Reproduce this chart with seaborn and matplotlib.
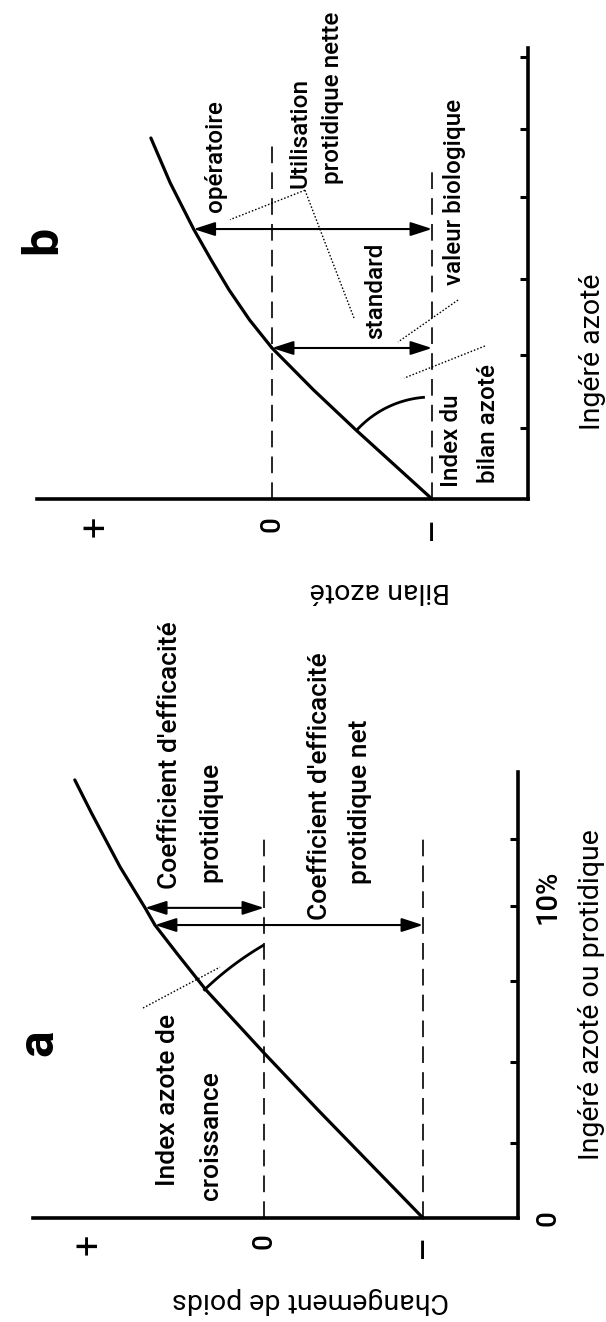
import numpy as np
import matplotlib
matplotlib.use("Agg")
import matplotlib.pyplot as plt
import seaborn as sns

# ---------------- data ----------------
# w = weight change / nitrogen balance ( -1 = "–", 0 = "0", + above)
# I = intake (panel a in %, panel b in tick units)
W_TICKS = [1.1, 0.0, -1.0]
W_TICK_LABELS = ["+", "0", "–"]

# Panel a
A_CURVE_W = [-1.0, -0.34, 0.0, 0.365, 0.54, 0.686, 0.748, 0.905, 1.085, 1.19]
A_CURVE_I = [0.0, 3.46, 5.29, 7.31, 8.43, 9.39, 9.94, 11.25, 12.98, 14.04]
A_I_TICKS = [2.4, 5.0, 7.6, 10.0, 12.15]
A_I_LABEL_POS = [0.0, 10.0]
A_I_LABELS = ["0", "10%"]
A_DASH_W = [0.0, -1.0]
A_DASH_TOP = [12.18, 12.18]
A_ARROW_I = [9.94, 9.39]
A_ARROW_FROM = [0.748, 0.686]
A_ARROW_TO = [0.0, -1.0]
A_LEADERS = [([0.761, 0.277], [6.73, 8.04])]
A_TEXTS = ["Index azote de", "croissance", "Coefficient d'efficacité", "protidique",
           "Coefficient d'efficacité", "protidique net"]
A_TEXT_W = [0.604, 0.333, 0.591, 0.340, -0.352, -0.604]
A_TEXT_I = [3.78, 2.63, 14.84, 12.69, 13.85, 13.33]
A_XLABEL = "Changement de poids"
A_YLABEL = "Ingéré azoté ou protidique"
A_PANEL = "a"

# Panel b
B_CURVE_W = [-1.0, -0.525, -0.26, 0.0, 0.14, 0.268, 0.38, 0.49, 0.636, 0.757]
B_CURVE_I = [0.0, 0.936, 1.479, 2.049, 2.429, 2.836, 3.243, 3.663, 4.288, 4.898]
B_I_TICKS = [0.96, 1.95, 2.99, 4.10, 5.02, 6.0]
B_DASH_W = [0.0, -1.0]
B_DASH_TOP = [4.80, 4.53]
B_ARROW_I = [2.049, 3.663]
B_ARROW_FROM = [0.0, 0.49]
B_ARROW_TO = [-1.0, -1.0]
B_LEADERS = [([-0.206, 0.2625], [4.19, 3.79]),
             ([-0.206, -0.5125], [4.19, 2.456]),
             ([-1.1625, -0.7875], [2.70, 2.13]),
             ([-1.331, -0.825], [2.076, 1.64])]
B_TEXTS = ["opératoire", "Utilisation", "protidique nette", "standard",
           "valeur biologique", "Index du", "bilan azoté"]
B_TEXT_W = [0.356, -0.175, -0.375, -0.65, -1.1375, -1.119, -1.35]
B_TEXT_I = [4.65, 4.97, 5.44, 2.82, 4.17, 0.787, 1.03]
B_XLABEL = "Bilan azoté"
B_YLABEL = "Ingéré azoté"
B_PANEL = "b"

# ---------------- style / layout ----------------
sns.set_style("white")
plt.rcParams["font.family"] = ["Roboto", "DejaVu Sans"]
plt.rcParams["font.weight"] = "medium"
for k in ["text.color", "axes.labelcolor", "xtick.color", "ytick.color"]:
    plt.rcParams[k] = "black"

FIG_W, FIG_H = 606, 1322
fig = plt.figure(figsize=(FIG_W / 100, FIG_H / 100), dpi=100)
fig.patch.set_facecolor("white")

# pixel mapping of each panel
LAYOUT = {
    "a": dict(w0=264, wpx=159, i0=1218, ipx=31.2, top=600, bot=1322,
              w_axis=-1.6, w_left=1.45, i_top=14.3, ann=19,
              arc=(316, 44.0, 30.2), pad=11),
    "b": dict(w0=272, wpx=160, i0=499, ipx=73.7, top=0, bot=600,
              w_axis=-1.6, w_left=1.47, i_top=6.12, ann=17.5,
              arc=(102, 47.8, 4.0), pad=12),
}
AXLABEL_SIZE = 20.5
TICK_SIZE = 20
TICK_SIZE_SPECIAL = {"–": 27, "+": 27}


def make_ax(L):
    ax = fig.add_axes([0, 1 - L["bot"] / FIG_H, 1, (L["bot"] - L["top"]) / FIG_H])
    ax.set_facecolor("none")
    return ax


def setup(ax, L):
    ax.set_xlim(L["w0"] / L["wpx"], (L["w0"] - FIG_W) / L["wpx"])
    ax.set_ylim((L["i0"] - L["bot"]) / L["ipx"], (L["i0"] - L["top"]) / L["ipx"])
    for s in ["top", "left"]:
        ax.spines[s].set_visible(False)
    for s in ["right", "bottom"]:
        ax.spines[s].set_color("black")
        ax.spines[s].set_linewidth(2.6)
        ax.spines[s].set_capstyle("projecting")
    ax.spines["right"].set_position(("data", L["w_axis"]))
    ax.spines["right"].set_bounds(0, L["i_top"])
    ax.spines["bottom"].set_position(("data", 0))
    ax.spines["bottom"].set_bounds(L["w_axis"], L["w_left"])
    ax.yaxis.tick_right()
    ax.tick_params(axis="y", direction="in", length=6, width=2.2, color="black",
                   labelright=False, labelleft=False)
    ax.set_xticks(W_TICKS)
    ax.set_xticklabels(W_TICK_LABELS, rotation=90, fontsize=TICK_SIZE)
    for lbl in ax.get_xticklabels():
        if lbl.get_text() in TICK_SIZE_SPECIAL:
            lbl.set_fontsize(TICK_SIZE_SPECIAL[lbl.get_text()])
            lbl.set_fontweight("normal")
    ax.tick_params(axis="x", length=0, pad=L["pad"], colors="black")


def draw_arc(ax, center, r_px, a0, a1):
    cx, cy = ax.transData.transform(center)
    t = np.radians(np.linspace(a0, a1, 80))
    xs = cx - r_px * np.sin(t)
    ys = cy + r_px * np.cos(t)
    pts = ax.transData.inverted().transform(np.column_stack([xs, ys]))
    ax.plot(pts[:, 0], pts[:, 1], color="black", lw=2.0, solid_capstyle="butt")


def panel(ax, L, cw, ci, iticks, dash_w, dash_top, ar_i, ar_from, ar_to,
          leaders, texts, tw, ti, xlabel, ylabel, letter, letter_pos):
    sns.lineplot(x=cw, y=ci, ax=ax, color="black", lw=2.3, estimator=None, sort=False)
    setup(ax, L)
    ax.set_yticks(iticks)
    for w, top in zip(dash_w, dash_top):
        ax.plot([w, w], [0, top], color="black", lw=1.2, dashes=(10, 5.5))
    for i, wf, wt in zip(ar_i, ar_from, ar_to):
        ax.annotate("", xy=(wt, i), xytext=(wf, i),
                    arrowprops=dict(arrowstyle="<|-|>,head_length=1.3,head_width=0.42",
                                    lw=1.5, color="black", shrinkA=0, shrinkB=0,
                                    mutation_scale=10))
    for lw_, li in leaders:
        ax.plot(lw_, li, color="black", lw=1.0, dashes=(1.1, 1.4))
    for s, w, i in zip(texts, tw, ti):
        ax.text(w, i, s, rotation=90, rotation_mode="anchor", ha="center",
                va="center", fontsize=L["ann"])
    r, a0, a1 = L["arc"]
    draw_arc(ax, (cw[0], ci[0]), r, a0, a1)
    ax.text(letter_pos[0], letter_pos[1], letter, rotation=90, rotation_mode="anchor",
            ha="center", va="center", fontsize=36, fontweight="bold")
    ax.set_xlabel(xlabel, rotation=180, fontsize=AXLABEL_SIZE)
    ax.xaxis.label.set_verticalalignment("center")
    ax.yaxis.set_label_position("right")
    ax.set_ylabel(ylabel, rotation=90, fontsize=AXLABEL_SIZE)
    ax.yaxis.label.set_verticalalignment("center")


# ---------------- panel a ----------------
La = LAYOUT["a"]
ax_a = make_ax(La)
panel(ax_a, La, A_CURVE_W, A_CURVE_I, A_I_TICKS, A_DASH_W, A_DASH_TOP,
      A_ARROW_I, A_ARROW_FROM, A_ARROW_TO, A_LEADERS, A_TEXTS, A_TEXT_W, A_TEXT_I,
      A_XLABEL, A_YLABEL, A_PANEL, (1.415, 5.61))
ax_a.xaxis.set_label_coords(-0.29, -2.63, transform=ax_a.transData)
ax_a.yaxis.set_label_coords(-2.057, 7.15, transform=ax_a.transData)
for pos, lab, dy, fs in zip(A_I_LABEL_POS, A_I_LABELS, [0, 6.5], [TICK_SIZE, 21]):
    ax_a.annotate(lab, xy=(La["w_axis"], pos), xytext=(21, dy), textcoords="offset points",
                  rotation=90, rotation_mode="anchor", ha="center", va="center",
                  fontsize=fs)

# ---------------- panel b ----------------
Lb = LAYOUT["b"]
ax_b = make_ax(Lb)
panel(ax_b, Lb, B_CURVE_W, B_CURVE_I, B_I_TICKS, B_DASH_W, B_DASH_TOP,
      B_ARROW_I, B_ARROW_FROM, B_ARROW_TO, B_LEADERS, B_TEXTS, B_TEXT_W, B_TEXT_I,
      B_XLABEL, B_YLABEL, B_PANEL, (1.431, 3.51))
ax_b.xaxis.set_label_coords(-0.675, -1.235, transform=ax_b.transData)
ax_b.yaxis.set_label_coords(-2.0, 1.995, transform=ax_b.transData)

fig.savefig("out.png", dpi=100, facecolor="white")
